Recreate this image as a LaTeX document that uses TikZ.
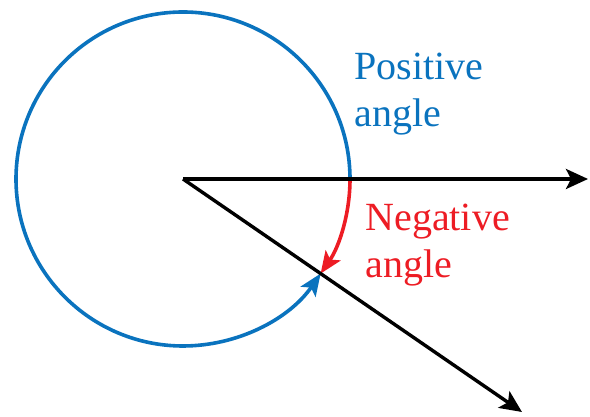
\documentclass[tikz,border=0pt]{standalone}
\usepackage{fontspec}
\setmainfont{Liberation Serif}
\usepackage{xcolor}
\usetikzlibrary{arrows.meta}
\definecolor{angblue}{RGB}{10,115,190}
\definecolor{angred}{RGB}{237,28,36}

\begin{document}
\begin{tikzpicture}[x=0.5pt, y=0.5pt,
        every node/.style={font=\fontsize{20}{23.5}\selectfont},
        ray/.style={line width=1.7pt, -{Stealth[length=11pt, width=10pt, inset=2.5pt]}},
        sweep/.style={line width=1.8pt, -{Stealth[length=11pt, width=9pt, inset=2.5pt]}}]
        \useasboundingbox (0,0) rectangle (590,417);
        \coordinate (o) at (183,238);
        \coordinate (xend) at (588,238);
        \coordinate (dend) at (522,5);
        \coordinate (start) at (350,238);
        \draw[sweep, angblue] (start) arc[start angle=0, end angle=325.5, radius=167];
        \draw[sweep, angred] (start) arc[start angle=0, end angle=-34.5, radius=167];
        \draw[ray] (o) -- (xend);
        \draw[ray] (o) -- (dend);
        \node[anchor=base west, align=left, text=angblue, inner sep=0pt] (pos) at (354,290) {Positive\\angle};
        \node[anchor=base west, align=left, text=angred, inner sep=0pt] (neg) at (365,139) {Negative\\angle};
    \end{tikzpicture}
\end{document}
